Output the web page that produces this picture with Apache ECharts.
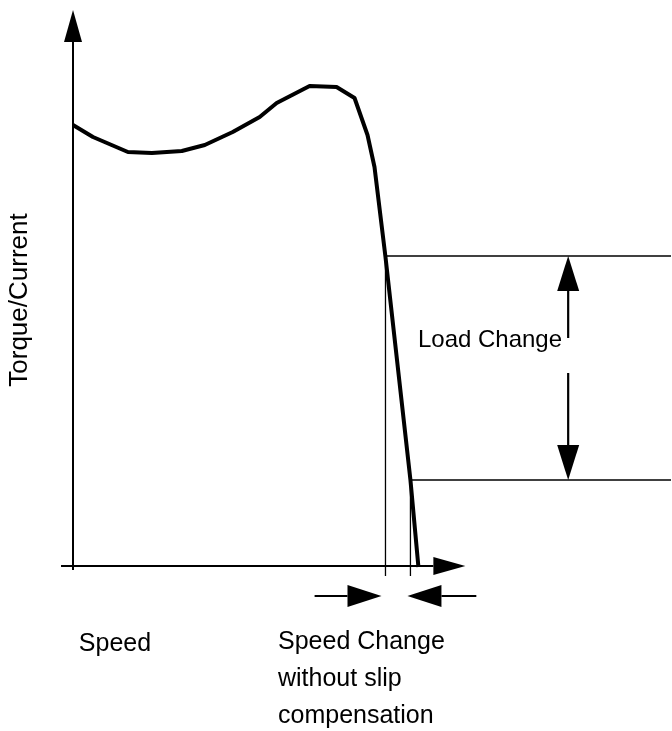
<!DOCTYPE html>
<html>
<head>
<meta charset="utf-8">
<script src="https://cdn.jsdelivr.net/npm/echarts@6/dist/echarts.min.js"></script>
<style>
  html, body { margin: 0; padding: 0; background: #fff; }
  #chart { width: 672px; height: 731px; }
</style>
</head>
<body>
<div id="chart"></div>
<script>
// torque/current vs speed curve (arbitrary units)
const speed = [0, 5, 13.75, 19.75, 27.25, 33, 40, 46.75, 51, 59.25, 66, 70.5, 73.75, 75.5, 78.25, 84.5, 86.5];
const torque = [88.2, 85.8, 82.8, 82.6, 83, 84.2, 86.8, 89.8, 92.6, 96, 95.8, 93.6, 86.2, 79.8, 61.8, 17.2, -0.2];

// the two load levels and the matching speeds on the curve
const loadLevels = [62, 17.2];
const loadSpeeds = [78.25, 84.5];

// axis extents (data units)
const xAxisRange = [-3, 98.25];
const yAxisRange = [-0.8, 111.2];
const guideEnd = { x: 149.75, y: -2 };

// annotation arrows: [fromX, fromY, toX, toY]
const loadArrowX = 124;
const loadArrows = [
  [loadArrowX, 45.6, loadArrowX, loadLevels[0]],
  [loadArrowX, 38.6, loadArrowX, loadLevels[1]]
];
const speedArrowY = -6;
const speedArrows = [
  [60.5, speedArrowY, 77.25, speedArrowY],
  [101, speedArrowY, 83.75, speedArrowY]
];

const FAMILY = '"Liberation Sans", Arial, sans-serif';

// guide lines from each operating point
const guides = [];
loadLevels.forEach((lv, i) => {
  guides.push([loadSpeeds[i], lv, guideEnd.x, lv]);
  guides.push([loadSpeeds[i], lv, loadSpeeds[i], guideEnd.y]);
});

const axesData = [
  [0, yAxisRange[0], 0, yAxisRange[1]],
  [xAxisRange[0], 0, xAxisRange[1], 0]
];

function arrowSeries(name, data, lineWidth, headW, headL) {
  return {
    name: name,
    type: 'custom',
    coordinateSystem: 'cartesian2d',
    clip: false,
    silent: true,
    encode: { x: [0, 2], y: [1, 3] },
    data: data,
    renderItem: function (params, api) {
      const p1 = api.coord([api.value(0), api.value(1)]);
      const p2 = api.coord([api.value(2), api.value(3)]);
      const children = [];
      if (!headL) {
        children.push({
          type: 'line',
          shape: { x1: p1[0], y1: p1[1], x2: p2[0], y2: p2[1] },
          style: { stroke: '#000', lineWidth: lineWidth }
        });
        return { type: 'group', children: children };
      }
      const dx = p2[0] - p1[0], dy = p2[1] - p1[1];
      const len = Math.sqrt(dx * dx + dy * dy);
      const ux = dx / len, uy = dy / len;
      const bx = p2[0] - ux * headL, by = p2[1] - uy * headL;
      const nx = -uy * headW / 2, ny = ux * headW / 2;
      children.push({
        type: 'line',
        shape: { x1: p1[0], y1: p1[1], x2: bx, y2: by },
        style: { stroke: '#000', lineWidth: lineWidth }
      });
      children.push({
        type: 'polygon',
        shape: { points: [[p2[0], p2[1]], [bx + nx, by + ny], [bx - nx, by - ny]] },
        style: { fill: '#000' }
      });
      return { type: 'group', children: children };
    }
  };
}

function label(text, x, y, size, align, rot) {
  return {
    type: 'text', x: x, y: y, rotation: rot || 0,
    style: {
      text: text, font: size + 'px ' + FAMILY, fill: '#000',
      textAlign: align, textVerticalAlign: 'middle'
    }
  };
}

const chart = echarts.init(document.getElementById('chart'));

chart.setOption({
  backgroundColor: '#fff',
  animation: false,
  grid: { left: 73, top: 6, width: 600, height: 560 },
  xAxis: { type: 'value', min: 0, max: 150, show: false },
  yAxis: { type: 'value', min: 0, max: 112, show: false },
  series: [
    arrowSeries('guides', guides, 1.3, 0, 0),
    arrowSeries('axes', axesData, 2, 18, 32),
    arrowSeries('load', loadArrows, 2.2, 22, 35),
    arrowSeries('speed', speedArrows, 2.2, 22, 34),
    {
      name: 'torque',
      type: 'line',
      data: speed.map((s, i) => [s, torque[i]]),
      showSymbol: false,
      clip: false,
      silent: true,
      lineStyle: { color: '#000', width: 4, join: 'round' }
    }
  ],
  graphic: [
    label('Torque/Current', 20, 300, 26, 'center', Math.PI / 2),
    label('Load Change', 490, 340, 24, 'center'),
    label('Speed', 115, 644, 25, 'center'),
    label('Speed Change', 278, 642, 25, 'left'),
    label('without slip', 278, 679, 25, 'left'),
    label('compensation', 278, 716, 25, 'left')
  ]
});
</script>
</body>
</html>
